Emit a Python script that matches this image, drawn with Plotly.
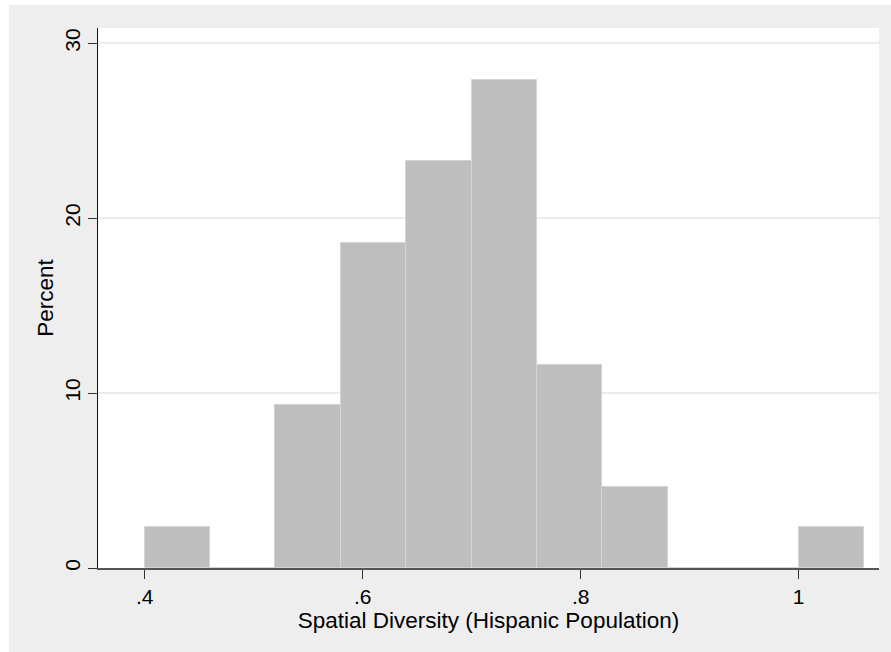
import plotly.graph_objects as go

# Histogram data: bin left edges (width 0.06) and percent per bin
bin_left = [0.40, 0.46, 0.52, 0.58, 0.64, 0.70, 0.76, 0.82, 0.88, 0.94, 1.00]
percent = [2.326, 0.0, 9.302, 18.605, 23.256, 27.907, 11.628, 4.651, 0.0, 0.0, 2.326]
bin_width = 0.06

x_tickvals = [0.4, 0.6, 0.8, 1.0]
x_ticktext = [".4", ".6", ".8", "1"]
y_tickvals = [0, 10, 20, 30]
y_ticktext = ["0", "10", "20", "30"]

FONT = "Liberation Sans, Arial, sans-serif"

fig = go.Figure()
fig.add_trace(go.Bar(
    x=bin_left, y=percent, width=[bin_width] * len(bin_left), offset=0,
    marker=dict(color="#bebebe", line=dict(color="#d4d4d4", width=1)),
    showlegend=False, hoverinfo="x+y",
))

fig.update_layout(
    width=891, height=652,
    margin=dict(l=98, r=12, t=28, b=84, autoexpand=False),
    paper_bgcolor="white",
    plot_bgcolor="rgba(0,0,0,0)",
    font=dict(family=FONT, color="black"),
    bargap=0,
    shapes=[
        dict(type="rect", xref="paper", yref="paper", x0=-0.1139, x1=1.05,
             y0=-0.2, y1=1.0426, fillcolor="#eeeeee", line=dict(width=0),
             layer="below"),
        dict(type="rect", xref="paper", yref="paper", x0=0, x1=1,
             y0=0, y1=1, fillcolor="white", line=dict(width=0),
             layer="below"),
    ],
    xaxis=dict(
        range=[0.3572, 1.0737], tickvals=x_tickvals, ticktext=x_ticktext,
        showgrid=False, zeroline=False,
        showline=True, linecolor="#555555", linewidth=2,
        ticks="outside", ticklen=9, tickwidth=1, tickcolor="#333333",
        tickfont=dict(size=21, family=FONT),
        title=dict(text="Spatial Diversity (Hispanic Population)",
                   font=dict(size=22.5, family=FONT), standoff=4),
    ),
    yaxis=dict(
        range=[0, 30.87], tickvals=y_tickvals, ticktext=y_ticktext,
        tickangle=-90,
        showgrid=True, gridcolor="#ebebeb", gridwidth=1.5,
        zeroline=False,
        showline=True, linecolor="#111111", linewidth=1,
        ticks="outside", ticklen=9, tickwidth=1, tickcolor="#333333",
        tickfont=dict(size=21, family=FONT),
        title=dict(text="Percent", font=dict(size=22.5, family=FONT), standoff=0),
    ),
)

fig.write_html("out.html")
